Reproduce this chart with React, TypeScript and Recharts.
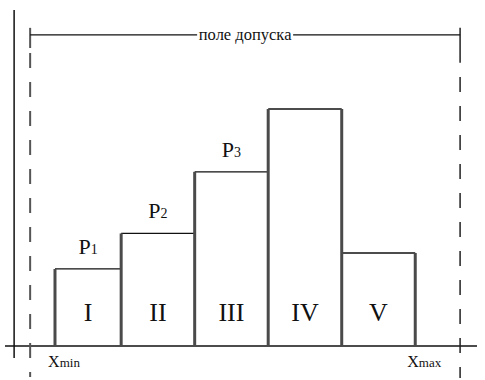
import React from 'react';
import { ComposedChart, XAxis, YAxis, ReferenceLine, Scatter } from 'recharts';

// Histogram bins (class intervals) and their heights (frequencies)
const binEdges = [1, 10, 20, 30, 40, 50];
const binHeights = [13, 19, 29.4, 40, 15.7];
const binNames = ['I', 'II', 'III', 'IV', 'V'];
const probSubscripts = ['1', '2', '3'];

// Tolerance field
const tolLow = -2.38;
const tolHigh = 56.1;
const tolLevel = 52.5;
const tolTitle = 'поле допуска';
const limitMain = ['X', 'X'];
const limitSubs = ['min', 'max'];
const limitValues = [1, 50];

// Axes
const yAxisAt = -4.56;
const xDomain: [number, number] = [-5.8, 58.4];
const yDomain: [number, number] = [-5.74, 58.4];
const numeralLevel = 4.2;

const FONT = "'Liberation Serif', 'DejaVu Serif', serif";
const txt = { fontFamily: FONT };

const numeralData = binNames.map((n, i) => ({
  x: (binEdges[i] + binEdges[i + 1]) / 2,
  y: numeralLevel,
  name: n,
}));
const probData = probSubscripts.map((s, i) => ({
  x: (binEdges[i] + binEdges[i + 1]) / 2,
  y: binHeights[i],
  sub: s,
}));
const limitData = limitValues.map((v, i) => ({ x: v, y: 0, main: limitMain[i], sub: limitSubs[i] }));
const titleData = [{ x: (tolLow + tolHigh) / 2, y: tolLevel, name: tolTitle }];

const edgeHeights = binEdges.map((_, i) =>
  Math.max(i > 0 ? binHeights[i - 1] : 0, i < binHeights.length ? binHeights[i] : 0)
);

const NumeralShape = (p: any) => (
  <text x={p.cx} y={p.cy} textAnchor="middle" fontFamily={FONT} style={{ ...txt, fontSize: 26 }} fill="#111">
    {p.payload.name}
  </text>
);
const ProbShape = (p: any) => (
  <text x={p.cx} y={p.cy - 15} textAnchor="middle" fontFamily={FONT} style={{ ...txt, fontSize: 22 }} fill="#111">
    P<tspan style={{ fontSize: 14 }}>{p.payload.sub}</tspan>
  </text>
);
const LimitShape = (p: any) => (
  <text x={p.cx + 9} y={p.cy + 21} textAnchor="middle" fontFamily={FONT} style={{ ...txt, fontSize: 16 }} fill="#111">
    {p.payload.main}
    <tspan style={{ fontSize: 13 }}>{p.payload.sub}</tspan>
  </text>
);
const TitleShape = (p: any) => (
  <g>
    <rect x={p.cx - 48} y={p.cy - 8} width={96} height={16} fill="#fff" />
    <text x={p.cx} y={p.cy + 5} textAnchor="middle" fontFamily={FONT} style={{ ...txt, fontSize: 16.5 }} fill="#111">
      {p.payload.name}
    </text>
  </g>
);

export default function App() {
  return (
    <div style={{ position: 'absolute', left: 0, top: 0, background: '#fff', fontFamily: FONT }}>
      <ComposedChart width={485} height={380} margin={{ top: 0, right: 8, bottom: 0, left: 5 }} style={{ fontFamily: FONT }}>
        <XAxis type="number" dataKey="x" domain={xDomain} hide allowDataOverflow />
        <YAxis type="number" dataKey="y" domain={yDomain} hide allowDataOverflow />

        {/* axes */}
        <ReferenceLine y={0} stroke="#111" strokeWidth={1.3} />
        <ReferenceLine
          segment={[{ x: yAxisAt, y: 56.7 }, { x: yAxisAt, y: -2.03 }]}
          stroke="#111"
          strokeWidth={1.5}
        />

        {/* tolerance limits */}
        <ReferenceLine
          segment={[{ x: tolLow, y: 53.7 }, { x: tolLow, y: 50.3 }]}
          stroke="#555"
          strokeWidth={2}
        />
        <ReferenceLine
          segment={[{ x: tolLow, y: 49.45 }, { x: tolLow, y: -5.23 }]}
          stroke="#555"
          strokeWidth={2}
          strokeDasharray="15 14"
        />
        <ReferenceLine
          segment={[{ x: tolHigh, y: 53.7 }, { x: tolHigh, y: 47.8 }]}
          stroke="#222"
          strokeWidth={1.5}
        />
        <ReferenceLine
          segment={[{ x: tolHigh, y: 45.4 }, { x: tolHigh, y: -5.4 }]}
          stroke="#222"
          strokeWidth={1.5}
          strokeDasharray="15 14"
        />
        <ReferenceLine
          segment={[{ x: tolLow, y: tolLevel }, { x: tolHigh, y: tolLevel }]}
          stroke="#111"
          strokeWidth={1.3}
        />

        {/* bar tops */}
        {binHeights.map((h, i) => (
          <ReferenceLine
            key={'t' + i}
            segment={[{ x: binEdges[i], y: h }, { x: binEdges[i + 1], y: h }]}
            stroke="#111"
            strokeWidth={1.3}
          />
        ))}
        {/* bar vertical edges */}
        {binEdges.map((e, i) => (
          <ReferenceLine
            key={'e' + i}
            segment={[{ x: e, y: 0 }, { x: e, y: edgeHeights[i] }]}
            stroke="#4a4a4a"
            strokeWidth={3}
          />
        ))}

        <Scatter data={numeralData} shape={NumeralShape} isAnimationActive={false} />
        <Scatter data={probData} shape={ProbShape} isAnimationActive={false} />
        <Scatter data={limitData} shape={LimitShape} isAnimationActive={false} />
        <Scatter data={titleData} shape={TitleShape} isAnimationActive={false} />
      </ComposedChart>
    </div>
  );
}
